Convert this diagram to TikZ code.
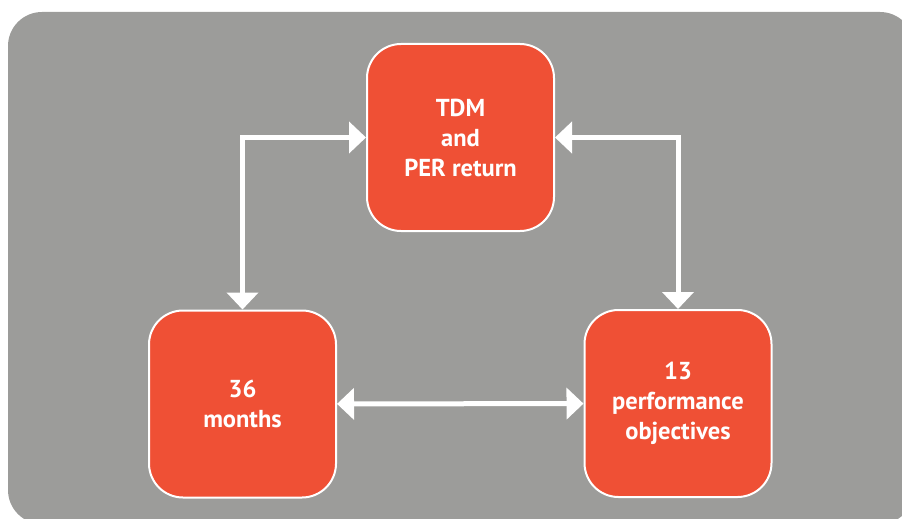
\documentclass[tikz,border=0pt]{standalone}
\usepackage{fontspec}
\setmainfont{PT Sans}
\usetikzlibrary{arrows.meta}
\definecolor{panelgrey}{HTML}{9C9C9A}
\definecolor{boxred}{HTML}{EF5035}
\tikzset{
  stagebox/.style={draw=white, line width=2pt, fill=boxred, rounded corners=34pt,
    minimum width=187pt, minimum height=187pt, align=center, text=white,
    font=\fontsize{24.5}{30}\selectfont\bfseries},
  link/.style={draw=white, line width=5pt,
    {Triangle[width=31pt,length=17pt]}-{Triangle[width=31pt,length=17pt]}}
}
\begin{document}
\begin{tikzpicture}[x=1pt,y=-1pt]
  \useasboundingbox (0,0) rectangle (902,519);
  \fill[panelgrey, rounded corners=34pt] (8,12) rectangle (914,524);
  \node[stagebox] (tdm) at (460.5,137.5) {TDM\\and\\PER return};
  \node[stagebox] (months) at (242.5,404) {36\\months};
  \node[stagebox] (perf) at (678,403.5) {13\\performance\\objectives};
  \begin{scope}[link]
    \draw (tdm.west) -| (months.north);
    \draw (tdm.east) -| (perf.north);
    \draw (months) -- (perf);
  \end{scope}
\end{tikzpicture}
\end{document}
